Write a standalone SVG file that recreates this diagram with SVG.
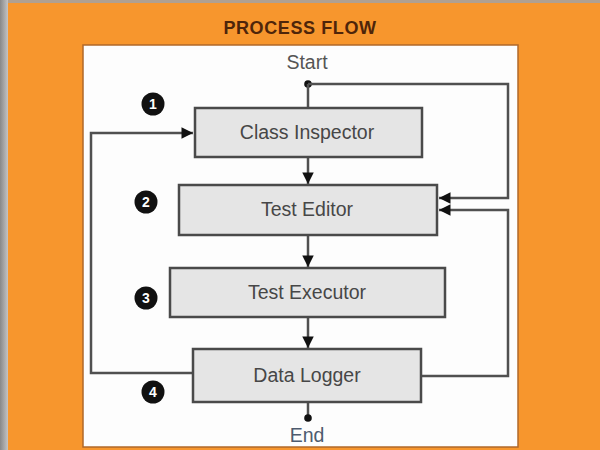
<svg xmlns="http://www.w3.org/2000/svg" width="600" height="450" viewBox="0 0 600 450">
<defs>
<style>
.box{fill:#e5e5e5;stroke:#4a4a4a;stroke-width:2.5}
.lbl{font-family:"Liberation Sans",Arial,sans-serif;font-size:19.5px;fill:#474747;text-anchor:middle}
.conn{fill:none;stroke:#505050;stroke-width:2.5}
.badge{fill:#111}
.num{font-family:"Liberation Sans",Arial,sans-serif;font-size:14px;font-weight:bold;fill:#fff;text-anchor:middle}
</style>
<marker id="ah" viewBox="0 0 10 10" refX="10" refY="5" markerWidth="5" markerHeight="4.6" orient="auto" markerUnits="strokeWidth">
<path d="M0,0 L10,5 L0,10 z" fill="#111"/>
</marker>
<linearGradient id="lg" x1="0" x2="1" y1="0" y2="0">
<stop offset="0" stop-color="#888"/><stop offset="1" stop-color="#c4c4c4"/>
</linearGradient>
</defs>
<rect x="0" y="0" width="600" height="450" fill="#F7962D"/>
<rect x="0" y="0" width="600" height="3" fill="#b0a090"/>
<rect x="0" y="0" width="8" height="450" fill="url(#lg)"/>
<text x="300" y="34" font-family="Liberation Sans,Arial,sans-serif" font-size="18" font-weight="bold" fill="#4e250a" text-anchor="middle" letter-spacing="0.6">PROCESS FLOW</text>
<rect x="83" y="45" width="435" height="402" fill="#fdfdfd" stroke="#b0682a" stroke-width="1.5"/>
<text class="lbl" x="307" y="69" style="fill:#555">Start</text>
<text class="lbl" x="307" y="442" style="fill:#4d5b6e">End</text>
<g id="connectors">
<circle cx="308" cy="84" r="3.8" fill="#111"/>
<path class="conn" d="M308,84 V108"/>
<path class="conn" d="M308,84 H508 V198 H439" marker-end="url(#ah)"/>
<path class="conn" d="M421,376 H508 V210 H439" marker-end="url(#ah)"/>
<path class="conn" d="M193,373 H91 V133 H193" marker-end="url(#ah)"/>
<path class="conn" d="M308,157 V184" marker-end="url(#ah)"/>
<path class="conn" d="M308,235 V267" marker-end="url(#ah)"/>
<path class="conn" d="M308,317 V348" marker-end="url(#ah)"/>
<path class="conn" d="M308,402 V418"/>
<circle cx="308" cy="418" r="3.8" fill="#111"/>
</g>
<g id="class-inspector">
<rect class="box" x="195" y="108" width="227" height="49"/>
<text class="lbl" x="307" y="139">Class Inspector</text>
</g>
<g id="test-editor">
<rect class="box" x="179" y="185" width="258" height="50"/>
<text class="lbl" x="307" y="216">Test Editor</text>
</g>
<g id="test-executor">
<rect class="box" x="170" y="268" width="275" height="49"/>
<text class="lbl" x="307" y="299">Test Executor</text>
</g>
<g id="data-logger">
<rect class="box" x="193" y="349" width="228" height="53"/>
<text class="lbl" x="307" y="382">Data Logger</text>
</g>
<g id="badge-1"><circle class="badge" cx="153" cy="104" r="11.5"/><text class="num" x="153" y="109">1</text></g>
<g id="badge-2"><circle class="badge" cx="146" cy="202" r="11.5"/><text class="num" x="146" y="207">2</text></g>
<g id="badge-3"><circle class="badge" cx="146" cy="298" r="11.5"/><text class="num" x="146" y="303">3</text></g>
<g id="badge-4"><circle class="badge" cx="153" cy="392" r="11.5"/><text class="num" x="153" y="397">4</text></g>
</svg>
